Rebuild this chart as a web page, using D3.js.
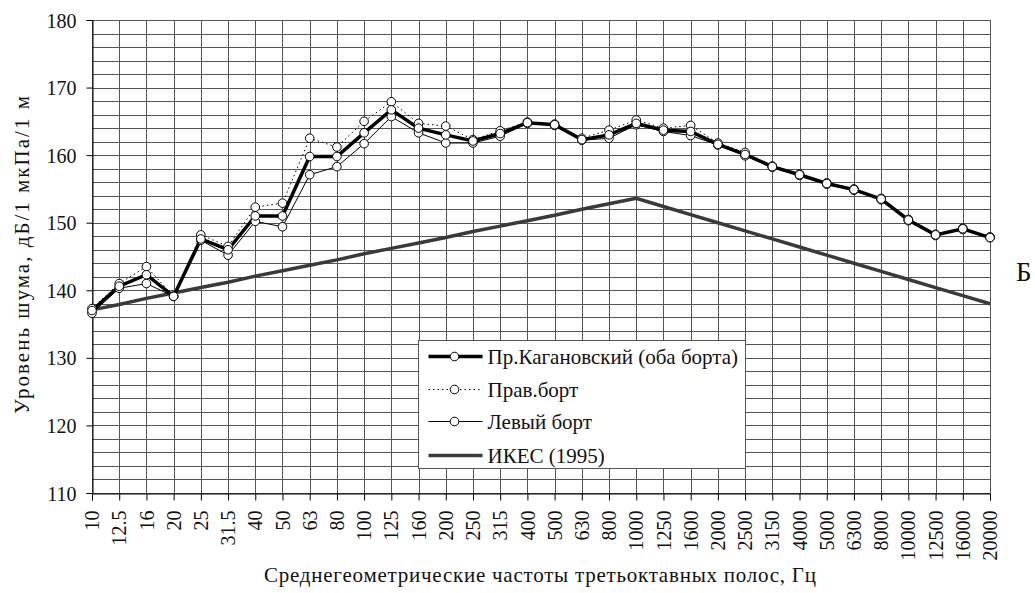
<!DOCTYPE html>
<html>
<head>
<meta charset="utf-8">
<script src="https://cdn.jsdelivr.net/npm/d3@7"></script>
<style>
  body { margin: 0; background: #fff; }
  svg { display: block; }
  svg text { font-family: "Liberation Serif", "Times New Roman", Times, "Noto Serif", "DejaVu Serif", serif; }
</style>
</head>
<body>
<div id="container"></div>
<script>

// Chart size and plot box
const width = 1035;
const height = 593;
const marginTop = 20;
const marginLeft = 92;
const plotRight = 990;
const plotBottom = 493;

// Third-octave band centres, Hz (tick labels)
const bands = ["10","12.5","16","20","25","31.5","40","50","63","80","100","125","160","200","250","315","400","500","630","800","1000","1250","1600","2000","2500","3150","4000","5000","6300","8000","10000","12500","16000","20000"];

// Пр.Кагановский (оба борта)
const bothSides = [137.0,140.6,142.3,139.1,147.6,146.0,151.0,151.0,159.8,159.8,163.3,166.7,164.0,163.0,162.1,163.2,164.8,164.5,162.3,163.0,164.7,163.7,163.5,161.6,160.1,158.3,157.1,155.8,154.9,153.5,150.4,148.2,149.1,147.8];

// Прав.борт
const rightSide = [137.3,141.0,143.5,139.1,148.2,146.5,152.3,152.9,162.5,161.2,165.0,167.9,164.7,164.3,162.3,163.6,164.9,164.6,162.5,163.7,165.2,164.0,164.4,161.8,160.4,158.4,157.2,155.9,155.0,153.6,150.5,148.3,149.2,147.9];

// Левый борт
const leftSide = [136.6,140.3,141.0,139.1,147.4,145.2,150.2,149.4,157.1,158.3,161.7,165.7,163.3,161.8,161.8,162.8,164.7,164.4,162.2,162.5,164.5,163.5,162.9,161.5,159.9,158.2,157.0,155.7,154.8,153.4,150.3,148.1,149.0,147.8];

// ИКЕС (1995)
const ices = [137.1,137.9,138.8,139.6,140.4,141.2,142.1,142.9,143.7,144.5,145.4,146.2,147.0,147.8,148.7,149.5,150.3,151.1,152.0,152.8,153.6,152.4,151.2,150.0,148.8,147.6,146.4,145.2,144.0,142.8,141.6,140.4,139.2,138.0];

const yTicks = [110,120,130,140,150,160,170,180];
const yGrid = d3.range(110, 181, 2);

const x = d3.scalePoint().domain(bands).range([marginLeft, plotRight]);
const y = d3.scaleLinear().domain([110, 180]).range([plotBottom, marginTop]);

const svg = d3.create("svg")
    .attr("width", width)
    .attr("height", height);

// grid
const grid = svg.append("g").attr("stroke", "#555").attr("stroke-width", 1);
grid.selectAll("line.h").data(yGrid).join("line")
    .attr("x1", marginLeft).attr("x2", plotRight)
    .attr("y1", d => Math.round(y(d)) + 0.5).attr("y2", d => Math.round(y(d)) + 0.5);
grid.selectAll("line.v").data(bands).join("line")
    .attr("y1", marginTop).attr("y2", plotBottom)
    .attr("x1", d => Math.round(x(d)) + 0.5).attr("x2", d => Math.round(x(d)) + 0.5);

// axes
const yAxis = svg.append("g")
    .attr("transform", `translate(${marginLeft + 0.5},0)`)
    .call(d3.axisLeft(y).tickValues(yTicks).tickSize(6).tickPadding(10));
const xAxis = svg.append("g")
    .attr("transform", `translate(0,${plotBottom + 0.5})`)
    .call(d3.axisBottom(x).tickSize(7).tickPadding(0));
[yAxis, xAxis].forEach(a => {
    a.attr("font-family", null);
    a.select(".domain").attr("stroke", "#000");
    a.selectAll(".tick line").attr("stroke", "#000");
    a.selectAll("text").attr("font-size", 20).attr("fill", "#111");
});
yAxis.selectAll("text").attr("dy", "0.35em");
xAxis.selectAll("text")
    .attr("text-anchor", "end")
    .attr("transform", "rotate(-90)")
    .attr("x", -17)
    .attr("y", 0)
    .attr("dy", "0.33em");

// lines
const line = d3.line().x((d, i) => x(bands[i])).y(d => y(d));

svg.append("path").attr("fill", "none").attr("stroke", "#3a3a3a").attr("stroke-width", 3.5)
    .attr("d", line(ices));
svg.append("path").attr("fill", "none").attr("stroke", "#000").attr("stroke-width", 1)
    .attr("stroke-dasharray", "1.5,3").attr("d", line(rightSide));
svg.append("path").attr("fill", "none").attr("stroke", "#000").attr("stroke-width", 1)
    .attr("d", line(leftSide));
svg.append("path").attr("fill", "none").attr("stroke", "#000").attr("stroke-width", 3.5)
    .attr("d", line(bothSides));

// markers
[leftSide, rightSide, bothSides].forEach(s => {
    svg.append("g").selectAll("circle").data(s).join("circle")
        .attr("cx", (d, i) => x(bands[i]))
        .attr("cy", d => y(d))
        .attr("r", 4.3)
        .attr("fill", "#fff")
        .attr("stroke", "#000")
        .attr("stroke-width", 1);
});

// legend
const legend = svg.append("g").attr("transform", "translate(418.5,340.5)");
legend.append("rect").attr("width", 327).attr("height", 128)
    .attr("fill", "#fff").attr("stroke", "#555");
const items = [
    {name: "Пр.Кагановский (оба борта)", w: 3.5, dash: null, color: "#000", marker: true},
    {name: "Прав.борт", w: 1, dash: "1.5,3", color: "#000", marker: true},
    {name: "Левый борт", w: 1, dash: null, color: "#000", marker: true},
    {name: "ИКЕС (1995)", w: 3.5, dash: null, color: "#3a3a3a", marker: false}
];
const rowY = [16, 49, 81, 115];
items.forEach((it, i) => {
    const g = legend.append("g").attr("transform", `translate(0,${rowY[i]})`);
    g.append("line").attr("x1", 10).attr("x2", 64)
        .attr("stroke", it.color).attr("stroke-width", it.w)
        .attr("stroke-dasharray", it.dash);
    if (it.marker) {
        g.append("circle").attr("cx", 36).attr("r", 4.3)
            .attr("fill", "#fff").attr("stroke", "#000");
    }
    g.append("text").attr("x", 69).attr("dy", "0.35em")
        .attr("font-size", 21).attr("fill", "#111").text(it.name);
});

// axis titles
svg.append("text")
    .attr("text-anchor", "middle")
    .attr("font-size", 21).attr("fill", "#111")
    .attr("textLength", 318).attr("lengthAdjust", "spacing")
    .attr("transform", "translate(29,255) rotate(-90)")
    .text("Уровень шума, дБ/1 мкПа/1 м");

svg.append("text")
    .attr("text-anchor", "middle")
    .attr("font-size", 21).attr("fill", "#111")
    .attr("textLength", 552).attr("lengthAdjust", "spacing")
    .attr("x", 540).attr("y", 582)
    .text("Среднегеометрические частоты третьоктавных полос, Гц");

svg.append("text")
    .attr("font-size", 27).attr("fill", "#111")
    .attr("x", 1016).attr("y", 281)
    .text("Б");

container.append(svg.node());
</script>
</body>
</html>
